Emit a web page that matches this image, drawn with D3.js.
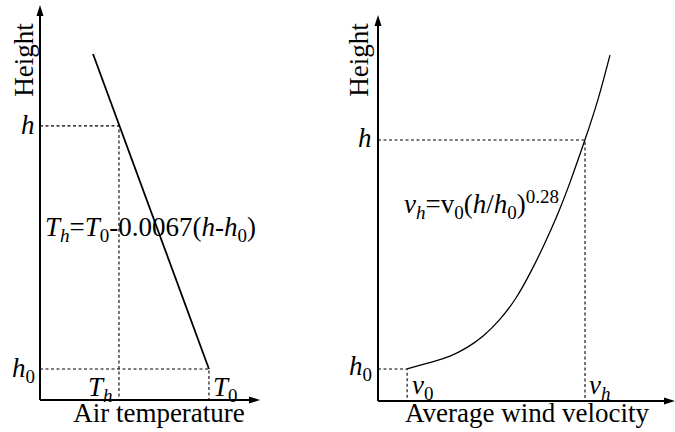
<!DOCTYPE html>
<html><head><meta charset="utf-8">
<script src="https://cdn.jsdelivr.net/npm/d3@7"></script>
</head>
<body style="margin:0">
<svg id="c" width="675" height="432"></svg>
<script>
// ---- data (abstract units) ----
// Left panel: air temperature vs height (straight lapse-rate line)
const leftTemp   = [2.41, 7.68];      // temperature at top, T0
const leftHeight = [8.76, 0.785];     // height at top, h0
const leftMarks  = {Th: 3.59, T0: 7.68, h: 6.94, h0: 0.785};
// Right panel: average wind velocity vs height (power law curve)
const windVel    = [0.98, 1.86, 2.42, 2.99, 3.55, 4.11, 4.67, 5.18, 5.57, 6.07, 6.46, 6.97, 7.42, 7.81];
const windHeight = [0.83, 1.02, 1.15, 1.37, 1.67, 2.10, 2.66, 3.39, 4.00, 4.86, 5.64, 6.76, 7.80, 8.96];
const rightMarks = {v0: 0.98, vh: 6.97, h: 6.76, h0: 0.83};
const xTitles = ["Air temperature", "Average wind velocity"];
const yTitle = "Height";

const FONT = '"Liberation Serif"';
const svg = d3.select("#c");
const FS = 27, SUB = 19;

function panel(cfg){
  const g = svg.append("g");
  const x = d3.scaleLinear().domain([0,10]).range(cfg.xr);
  const y = d3.scaleLinear().domain([0,10]).range(cfg.yr);
  const x0 = cfg.xr[0], y0 = cfg.yr[0], x1 = cfg.xr[1], y1 = cfg.yr[1];
  g.append("path").attr("d", d3.line()([[x(0),y(0)],[x1-9,y(0)]])).attr("stroke","#000").attr("stroke-width",2);
  g.append("path").attr("d", d3.line()([[x(0),y(0)],[x(0),y1+9]])).attr("stroke","#000").attr("stroke-width",2);
  g.append("path").attr("d", `M${x1},${y0}L${x1-11},${y0-3.5}L${x1-11},${y0+3.5}Z`).attr("fill","#000");
  g.append("path").attr("d", `M${x0},${y1}L${x0-3.5},${y1+11}L${x0+3.5},${y1+11}Z`).attr("fill","#000");
  return {g,x,y};
}

function dashed(g, pts){
  g.append("path").attr("d", d3.line()(pts))
   .attr("fill","none").attr("stroke","#000").attr("stroke-width",1.1)
   .attr("stroke-dasharray","3,2.5");
}

// rich text built from separate text elements placed one after another
function rich(x, y, parts){
  let cx = x;
  parts.forEach(p=>{
    const [txt, st] = p;
    let dy = 0, fs = FS;
    if (st.includes("s")) { dy = 6; fs = SUB; }
    if (st.includes("S")) { dy = -10; fs = SUB; }
    const t = svg.append("text").style("font-family",FONT).attr("font-size",fs)
      .attr("x",cx).attr("y",y+dy).text(txt);
    if (st.includes("i")) t.style("font-style","italic");
    cx += t.node().getComputedTextLength();
  });
}

function vtitle(cx, cy){
  svg.append("text").style("font-family",FONT).attr("font-size",FS)
   .attr("transform",`translate(${cx},${cy}) rotate(-90)`)
   .attr("text-anchor","middle").text(yTitle);
}
function xtitle(cx, cy, s){
  svg.append("text").style("font-family",FONT).attr("font-size",FS)
   .attr("x",cx).attr("y",cy).attr("text-anchor","middle").text(s);
}

// ---------- Left panel ----------
{
  const {g,x,y} = panel({xr:[40,260], yr:[400,5]});
  const m = leftMarks;
  dashed(g, [[x(0),y(m.h)],[x(m.Th),y(m.h)],[x(m.Th),y(0)]]);
  dashed(g, [[x(0),y(m.h0)],[x(m.T0),y(m.h0)],[x(m.T0),y(0)]]);
  g.append("path").datum(d3.zip(leftTemp,leftHeight))
   .attr("d", d3.line().x(d=>x(d[0])).y(d=>y(d[1])))
   .attr("fill","none").attr("stroke","#000").attr("stroke-width",1.8);
}
// ---------- Right panel ----------
{
  const {g,x,y} = panel({xr:[378,675], yr:[401,15]});
  const m = rightMarks;
  dashed(g, [[x(0),y(m.h)],[x(m.vh),y(m.h)],[x(m.vh),y(0)]]);
  dashed(g, [[x(0),y(m.h0)],[x(m.v0),y(m.h0)],[x(m.v0),y(0)]]);
  g.append("path").datum(d3.zip(windVel,windHeight))
   .attr("d", d3.line().x(d=>x(d[0])).y(d=>y(d[1])).curve(d3.curveBasis))
   .attr("fill","none").attr("stroke","#000").attr("stroke-width",1.3);
}

// ---------- Texts ----------
xtitle(159, 422, xTitles[0]);
xtitle(527, 422, xTitles[1]);
vtitle(33, 60);
vtitle(368, 60);
rich(21, 134, [["h","i"]]);
rich(12, 377, [["h","i"],["0","s"]]);
rich(88, 396, [["T","i"],["h","is"]]);
rich(213, 396, [["T","i"],["0","s"]]);
rich(45, 236, [["T","i"],["h","is"],["=",""],["T","i"],["0","s"],["-0.0067(",""],["h","i"],["-",""],["h","i"],["0","s"],[")",""]]);
rich(358, 147, [["h","i"]]);
rich(349, 375, [["h","i"],["0","s"]]);
rich(412, 394, [["v","i"],["0","s"]]);
rich(589, 394, [["v","i"],["h","is"]]);
rich(404, 213, [["v","i"],["h","is"],["=v",""],["0","s"],["(",""],["h","i"],["/",""],["h","i"],["0","s"],[")",""],["0.28","S"]]);
</script>
</body></html>
